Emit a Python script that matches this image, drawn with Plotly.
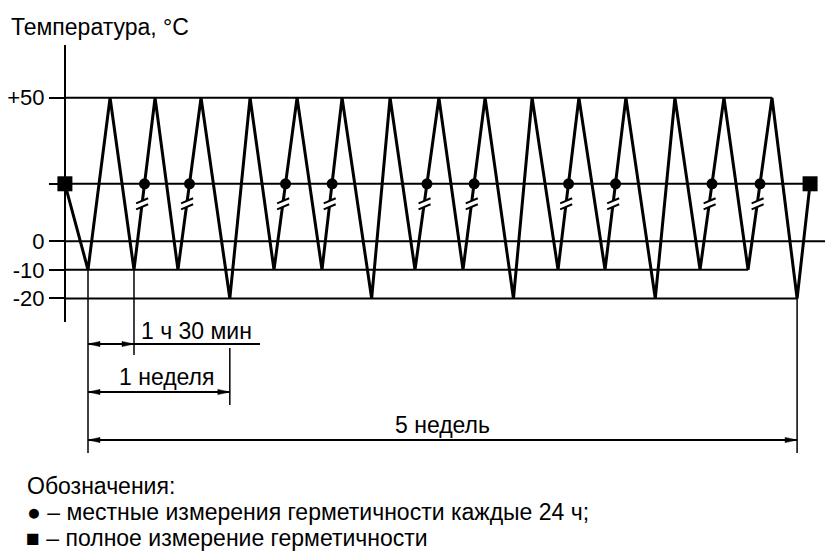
import plotly.graph_objects as go

# ---------------- data (time in days) ----------------
profile_t = [-1.14, 0.0, 1.09, 2.27, 3.31, 4.44, 5.58, 7.0, 8.0, 9.18, 10.32, 11.55,
             12.54, 14.0, 14.91, 16.14, 17.32, 18.51, 19.6, 21.0, 21.92, 23.2, 24.23,
             25.52, 26.55, 28.0, 28.97, 30.21, 31.39, 32.58, 33.76, 35.0, 35.64]
profile_T = [20, -10, 50, -10, 50, -10, 50, -20, 50, -10, 50, -10,
             50, -20, 50, -10, 50, -10, 50, -20, 50, -10, 50,
             -10, 50, -20, 50, -10, 50, -10, 50, -20, 20]

local_t = [2.79, 5.01, 9.75, 12.05, 16.73, 19.06, 23.72, 26.04, 30.8, 33.17]
local_T = [20, 20, 20, 20, 20, 20, 20, 20, 20, 20]

full_t = [-1.14, 35.64]
full_T = [20, 20]

levels = [50, 20, 0, -10, -20]
level_labels = ["+50", "", "0", "-10", "-20"]

dim_start = [0.0, 0.0, 0.0]
dim_end = [2.27, 7.0, 35.0]
dim_labels = ["1 ч 30 мин", "1 неделя", "5 недель"]

y_title = "Температура, °C"
legend_title = "Обозначения:"
legend_lines = ["● – местные измерения герметичности каждые 24 ч;",
                "■ – полное измерение герметичности"]

# ---------------- layout constants (pixel values are page pixels) ----------------
OFF = 8                      # page body margin
W, H = 833 - OFF, 552 - OFF  # figure size
X_RANGE = [-3.9487, 36.772]
Y_RANGE = [-28.2, 68.4]
Y_DOMAIN = [1 - (322 - OFF) / H, 1 - (45 - OFF) / H]
FONT = "Liberation Sans, Arial, Helvetica, sans-serif"
FS = 23

DIM_Y_PX = [344, 392, 440]
LABEL_Y_PX = [331, 377, 425]
SHELF_END_PX = 260


def tpx(t):
    return OFF + (t - X_RANGE[0]) / (X_RANGE[1] - X_RANGE[0]) * W


def tx(px):
    return X_RANGE[0] + (px - OFF) / W * (X_RANGE[1] - X_RANGE[0])


def py(px):
    return 1 - (px - OFF) / H


def px_x(px):
    return (px - OFF) / W


def Tpx(T):
    top, bot = OFF + (1 - Y_DOMAIN[1]) * H, OFF + (1 - Y_DOMAIN[0]) * H
    return top + (Y_RANGE[1] - T) / (Y_RANGE[1] - Y_RANGE[0]) * (bot - top)


def font(size=FS):
    return dict(size=size, color="black", family=FONT)


fig = go.Figure()

# level lines
for lv in levels:
    if lv == 0:
        end = X_RANGE[1]
    else:
        end = max(t for t, T in zip(profile_t, profile_T) if T == lv)
    fig.add_trace(go.Scatter(x=[profile_t[0], end], y=[lv, lv], mode="lines",
                             line=dict(color="black", width=2), hoverinfo="skip"))

# temperature profile
fig.add_trace(go.Scatter(x=profile_t, y=profile_T, mode="lines",
                         line=dict(color="black", width=3), hoverinfo="skip"))
fig.add_trace(go.Scatter(x=local_t, y=local_T, mode="markers",
                         marker=dict(symbol="circle", size=11, color="black"),
                         hoverinfo="skip"))
fig.add_trace(go.Scatter(x=full_t, y=full_T, mode="markers",
                         marker=dict(symbol="square", size=15, color="black"),
                         hoverinfo="skip"))

shapes = []
# break marks "//" below each local measurement point
cx, cy, k = -2.4, -20, 0.42
for t, T in zip(local_t, local_T):
    common = dict(xref="x", yref="y", xsizemode="pixel", ysizemode="pixel",
                  xanchor=t, yanchor=T)
    path = (f"M{cx-4},{cy-3-4*k} L{cx+4},{cy-3+4*k} "
            f"L{cx+4},{cy+3+4*k} L{cx-4},{cy+3-4*k} Z")
    shapes.append(dict(type="path", path=path, fillcolor="white",
                       line=dict(width=0), **common))
    for s in (3, -3):
        shapes.append(dict(type="line", x0=cx - 6, y0=cy + s - 6 * k,
                           x1=cx + 6, y1=cy + s + 6 * k,
                           line=dict(color="black", width=2), **common))


def hline(t0, t1, ypx, w=1.8):
    shapes.append(dict(type="line", xref="x", yref="paper", x0=t0, x1=t1,
                       y0=py(ypx), y1=py(ypx), line=dict(color="black", width=w)))


def vline(t, y0px, y1px, w=1.5):
    shapes.append(dict(type="line", xref="x", yref="paper", x0=t, x1=t,
                       y0=py(y0px), y1=py(y1px), line=dict(color="black", width=w)))


def arrow(t, ypx, direction):
    d = direction
    path = f"M0,0 L{-d*12},2.6 L{-d*12},-2.6 Z"
    shapes.append(dict(type="path", xref="x", yref="paper", xsizemode="pixel",
                       ysizemode="pixel", xanchor=t, yanchor=py(ypx), path=path,
                       fillcolor="black", line=dict(color="black", width=0.5)))


def temp_at(t):
    return profile_T[profile_t.index(t)]


# dimension lines
for i in range(3):
    hline(dim_start[i], dim_end[i], DIM_Y_PX[i])
    arrow(dim_start[i], DIM_Y_PX[i], -1)
    arrow(dim_end[i], DIM_Y_PX[i], 1)
hline(dim_end[0], tx(SHELF_END_PX), DIM_Y_PX[0])

# extension lines
vline(dim_start[0], Tpx(temp_at(dim_start[0])), 453)
vline(dim_end[0], Tpx(temp_at(dim_end[0])), 355)
vline(dim_end[1], 348, 405)
vline(dim_end[2], Tpx(temp_at(dim_end[2])), 453)

annotations = []
label_x = [
    px_x((tpx(dim_end[0]) + SHELF_END_PX) / 2),
    px_x((tpx(dim_start[1]) + tpx(dim_end[1])) / 2 + 8),
    px_x((tpx(dim_start[2]) + tpx(dim_end[2])) / 2),
]
for i in range(3):
    annotations.append(dict(x=label_x[i], y=py(LABEL_Y_PX[i]), xref="paper", yref="paper",
                            text=dim_labels[i], showarrow=False, xanchor="center",
                            yanchor="middle", font=font()))

annotations.append(dict(x=px_x(9), y=py(27), xref="paper", yref="paper", text=y_title,
                        showarrow=False, xanchor="left", yanchor="middle", font=font()))
annotations.append(dict(x=px_x(25), y=py(486), xref="paper", yref="paper", text=legend_title,
                        showarrow=False, xanchor="left", yanchor="middle", font=font()))
annotations.append(dict(x=px_x(25), y=py(512), xref="paper", yref="paper", text=legend_lines[0],
                        showarrow=False, xanchor="left", yanchor="middle", font=font()))
annotations.append(dict(x=px_x(25), y=0, xref="paper", yref="paper", text=legend_lines[1],
                        showarrow=False, xanchor="left", yanchor="bottom", borderpad=0,
                        font=font()))

axis_pos = (profile_t[0] - X_RANGE[0]) / (X_RANGE[1] - X_RANGE[0])

fig.update_layout(
    width=W, height=H,
    margin=dict(l=0, r=0, t=0, b=0),
    paper_bgcolor="white", plot_bgcolor="white",
    showlegend=False,
    font=dict(family=FONT, size=FS, color="black"),
    xaxis=dict(range=X_RANGE, domain=[0, 1], visible=False, fixedrange=True),
    yaxis=dict(range=Y_RANGE, domain=Y_DOMAIN, anchor="free", position=axis_pos,
               showline=True, linecolor="black", linewidth=2,
               ticks="outside", ticklen=15, tickwidth=2, tickcolor="black",
               tickvals=levels, ticktext=level_labels, showgrid=False, zeroline=False,
               tickfont=font(22), fixedrange=True),
    shapes=shapes,
    annotations=annotations,
)

fig.write_html("out.html")
